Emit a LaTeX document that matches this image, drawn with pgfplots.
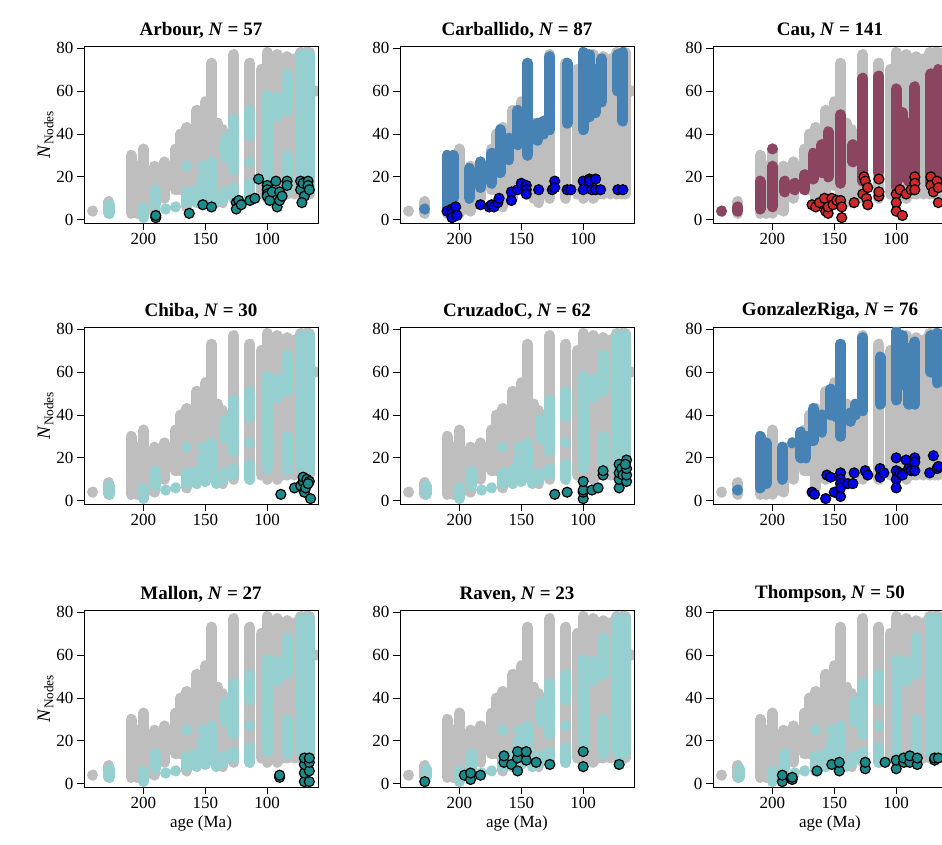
\documentclass[border=0pt]{standalone}
\usepackage{pgfplots}
\pgfplotsset{compat=1.18}
\usepackage{pgfplotstable}
\usepackage{fontspec}
\setmainfont{Liberation Serif}
\definecolor{gr}{HTML}{BEBEBE}
\definecolor{tl}{HTML}{96CFCF}
\definecolor{dt}{HTML}{1A8A8A}
\definecolor{sb}{HTML}{4682B4}
\definecolor{bl}{HTML}{0000F0}
\definecolor{mr}{HTML}{8B4560}
\definecolor{rd}{HTML}{CC2A2A}
\pgfplotstableread{
x y
241 4
241 4.05
nan nan
228 3
228 8.5
nan nan
210 3
210 30
nan nan
205 3
205 25
nan nan
200 3
200 33
nan nan
195 5
195 22
nan nan
191 4
191 25
nan nan
183 10
183 27
nan nan
174 14
174 33
nan nan
170 14
170 40
nan nan
165 6
165 43
nan nan
157 10
157 51
nan nan
150 16
150 55
nan nan
145 12
145 73
nan nan
140 10
140 45
nan nan
136 8
136 42
nan nan
127 10
127 77
nan nan
114 10
114 73
nan nan
105 12
105 70
nan nan
100 10
100 78
nan nan
96 12
96 72
nan nan
92 10
92 77
nan nan
88 12
88 75
nan nan
84 12
84 76
nan nan
78 12
78 75
nan nan
73 12
73 78
nan nan
69 12
69 78
nan nan
66 12
66 78
nan nan
61 60
61 60.05
}\greytab
\pgfplotstableread{
x y
227 3
227 7
nan nan
200 1
200 6
nan nan
190 7
190 14
nan nan
182 5
182 5.05
nan nan
174 6
174 6.05
nan nan
165 8
165 13
nan nan
165 25
165 25.05
nan nan
160 10
160 13
nan nan
157 8
157 14
nan nan
152 11
152 20
nan nan
152 25
152 25.05
nan nan
150 9
150 12
nan nan
145 11
145 27
nan nan
141 8
141 8.05
nan nan
135 10
135 13
nan nan
134 29
134 38
nan nan
127 23
127 47
nan nan
127 12
127 15
nan nan
114 39
114 51
nan nan
114 27
114 27.05
nan nan
114 10
114 17
nan nan
100 15
100 58
nan nan
92 48
92 57
nan nan
84 51
84 68
nan nan
84 14
84 30
nan nan
72 14
72 77
nan nan
69 14
69 77
nan nan
66 14
66 77
}\tealtab
\pgfplotstableread{
x y
228 5
228 5.05
nan nan
210 5
210 30
nan nan
205 10
205 30
nan nan
192 10
192 24
nan nan
183 15
183 27
nan nan
174 17
174 31
nan nan
167 22
167 42
nan nan
160 28
160 38
nan nan
153 35
153 51
nan nan
147 40
147 50
nan nan
145 30
145 73
nan nan
137 37
137 45
nan nan
132 40
132 46
nan nan
127 42
127 76
nan nan
113 45
113 73
nan nan
100 42
100 78
nan nan
95 48
95 77
nan nan
90 50
90 70
nan nan
85 55
85 75
nan nan
72 60
72 77
nan nan
68 46
68 78
}\sbcarb
\pgfplotstableread{
x y
228 5
228 5.05
nan nan
210 6
210 30
nan nan
205 8
205 27
nan nan
192 10
192 25
nan nan
184 27
184 27.05
nan nan
177 20
177 32
nan nan
173 20
173 30
nan nan
167 28
167 43
nan nan
160 32
160 40
nan nan
153 40
153 52
nan nan
148 39
148 51
nan nan
145 30
145 73
nan nan
137 37
137 41
nan nan
133 40
133 45
nan nan
127 42
127 76
nan nan
113 45
113 67
nan nan
100 47
100 79
nan nan
95 54
95 77
nan nan
90 45
90 71
nan nan
85 45
85 74
nan nan
72 60
72 77
nan nan
67 55
67 78
}\sbgonz
\pgfplotstableread{
x y
241 4
241 4.05
nan nan
228 4
228 6
nan nan
210 5
210 18
nan nan
200 6
200 25
nan nan
200 33
200 33.05
nan nan
190 13
190 18
nan nan
182 14
182 17
nan nan
174 14
174 21
nan nan
167 19
167 31
nan nan
160 22
160 35
nan nan
155 20
155 41
nan nan
145 17
145 49
nan nan
135 27
135 35
nan nan
127 18
127 66
nan nan
114 22
114 67
nan nan
100 15
100 61
nan nan
95 20
95 50
nan nan
90 18
90 45
nan nan
85 17
85 62
nan nan
72 17
72 68
nan nan
66 15
66 70
}\mrcau
\pgfplotsset{
  pan/.style={scale only axis, width=234pt, height=177pt, x dir=reverse,
    xmin=59, xmax=248, ymin=-1.5, ymax=81, xtick={200,150,100}, ytick={0,20,40,60,80},
    tick align=outside, xtick pos=bottom, ytick pos=left, major tick length=7pt,
    tick style={black, line width=0.8pt}, axis line style={line width=0.9pt},
    tick label style={font=\fontsize{17}{17}\selectfont},
    /pgf/number format/assume math mode=true,
    title style={font=\fontsize{19}{20}\selectfont\bfseries, yshift=-2pt},
    unbounded coords=jump, clip=true, anchor=north west},
  ylab/.style={ylabel={\fontsize{19}{19}\selectfont\textit{N}\textsubscript{Nodes}}, ylabel style={yshift=-4pt}},
  xlab/.style={xlabel={\fontsize{17}{17}\selectfont age (Ma)}},
  seg/.style={no markers, line width=11pt, line cap=round, #1},
  hl/.style={only marks, mark=*, mark size=5pt, mark options={fill=#1, draw=black, line width=1.2pt}},
}
\newcommand\bg{\addplot[seg=gr] table {\greytab};}
\newcommand\tb{\addplot[seg=tl] table {\tealtab};}
\begin{document}
\begin{tikzpicture}
\useasboundingbox (0pt,0pt) rectangle (942pt,-845pt);
% Row 1
\begin{axis}[pan, at={(84pt,-46pt)}, title={Arbour, \textit{N} = 57}, ylab]
\bg \tb
\addplot[hl=dt] coordinates {(190,1)(190,2)(163,3)(152,7)(145,6)(125,8)(125,5)(123,9)(121,7)(114,9)(110,10)(107,19)(100,16)(100,14)(100,12)(100,11)(98,9)(96,13)(93,18)(92,6)(90,13)(90,9)(88,11)(84,18)(84,16)(73,18)(73,14)(71,17)(70,11)(72,8)(67,18)(67,16)(66,14)};
\end{axis}
\begin{axis}[pan, at={(400pt,-46pt)}, title={Carballido, \textit{N} = 87}]
\bg
\addplot[seg=sb] table {\sbcarb};
\addplot[hl=bl] coordinates {(210,4)(206,5)(206,3)(206,1)(203,6)(202,2)(183,7)(176,6)(174,7)(172,6)(169,8)(168,10)(158,13)(158,9)(153,14)(150,17)(146,16)(146,14)(146,12)(136,14)(125,14)(123,18)(123,15)(113,14)(110,14)(100,18)(100,14)(95,19)(95,18)(93,14)(90,19)(90,14)(86,14)(72,14)(68,14)};
\end{axis}
\begin{axis}[pan, at={(713pt,-46pt)}, title={Cau, \textit{N} = 141}]
\bg
\addplot[seg=mr] table {\mrcau};
\addplot[hl=rd] coordinates {(168,7)(165,6)(162,8)(158,10)(157,4)(155,3)(155,6)(152,10)(151,7)(148,9)(145,9)(144,6)(144,1)(134,8)(127,12)(126,20)(125,18)(124,10)(123,7)(123,15)(114,11)(114,19)(114,13)(100,12)(100,8)(100,4)(95,2)(97,14)(92,12)(88,14)(85,20)(85,17)(85,14)(72,20)(72,16)(70,13)(67,18)(66,15)(66,8)};
\end{axis}
% Row 2
\begin{axis}[pan, at={(84pt,-327pt)}, title={Chiba, \textit{N} = 30}, ylab]
\bg \tb
\addplot[hl=dt] coordinates {(89,3)(78,6)(73,7)(71,9)(71,11)(70,4)(69,6)(68,10)(66,9)(65,1)(67,8)};
\end{axis}
\begin{axis}[pan, at={(400pt,-327pt)}, title={CruzadoC, \textit{N} = 62}]
\bg \tb
\addplot[hl=dt] coordinates {(123,3)(113,4)(100,1)(100,4)(100,5)(100,9)(93,5)(88,6)(84,12)(84,14)(71,6)(71,10)(71,13)(71,17)(69,15)(68,12)(65,9)(65,12)(65,15)(65,19)(66,17)};
\end{axis}
\begin{axis}[pan, at={(713pt,-327pt)}, title={GonzalezRiga, \textit{N} = 76}]
\bg
\addplot[seg=sb] table {\sbgonz};
\addplot[hl=bl] coordinates {(168,4)(166,3)(157,1)(156,12)(153,11)(150,4)(145,13)(145,10)(145,8)(145,6)(145,2)(139,8)(135,8)(134,13)(125,14)(123,12)(113,15)(113,11)(110,13)(100,20)(100,14)(100,10)(100,6)(97,13)(95,12)(92,19)(90,15)(88,14)(85,20)(85,18)(85,14)(73,13)(70,21)(67,15)(66,16)};
\end{axis}
% Row 3
\begin{axis}[pan, at={(84pt,-610pt)}, title={Mallon, \textit{N} = 27}, ylab, xlab]
\bg \tb
\addplot[hl=dt] coordinates {(90,3)(90,4)(70,1)(70,5)(70,9)(70,12)(66,1)(66,6)(66,10)(66,12)};
\end{axis}
\begin{axis}[pan, at={(400pt,-610pt)}, title={Raven, \textit{N} = 23}, xlab]
\bg \tb
\addplot[hl=dt] coordinates {(228,1)(196,4)(191,2)(191,5)(183,4)(164,10)(164,13)(158,9)(153,6)(153,12)(153,15)(146,11)(146,15)(138,10)(127,9)(100,8)(100,15)(71,9)};
\end{axis}
\begin{axis}[pan, at={(713pt,-610pt)}, title={Thompson, \textit{N} = 50}, xlab]
\bg \tb
\addplot[hl=dt] coordinates {(192,1)(192,4)(184,2)(184,3)(164,6)(152,9)(146,6)(146,10)(125,7)(125,10)(109,10)(100,7)(100,11)(94,10)(94,12)(89,10)(89,13)(83,9)(83,12)(69,11)(69,12)(66,12)};
\end{axis}
\end{tikzpicture}
\end{document}
